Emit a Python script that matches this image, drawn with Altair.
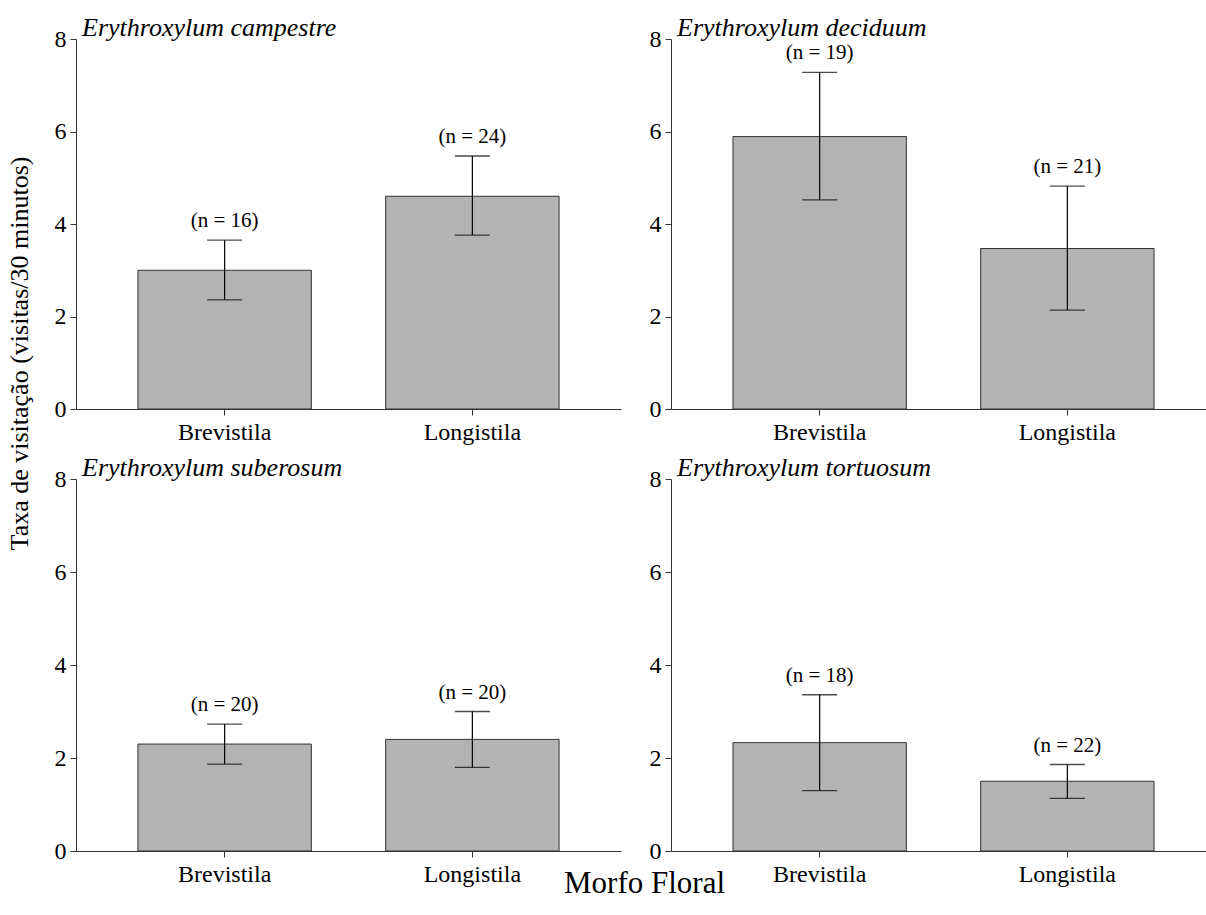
import altair as alt
import pandas as pd

# ---- data ----
species = ["Erythroxylum campestre", "Erythroxylum deciduum",
           "Erythroxylum suberosum", "Erythroxylum tortuosum"]
morphs = ["Brevistila", "Longistila"]
means = [[3.00, 4.60], [5.89, 3.47], [2.30, 2.40], [2.33, 1.50]]
lower = [[2.36, 3.76], [4.52, 2.14], [1.87, 1.80], [1.30, 1.13]]
upper = [[3.65, 5.47], [7.28, 4.82], [2.73, 3.00], [3.36, 1.86]]
n_obs = [[16, 24], [19, 21], [20, 20], [18, 22]]
y_ticks = [0, 2, 4, 6, 8]

FONT = "Liberation Serif"
BAR = "#b3b3b3"
DARK = "#333333"


def panel(i, width, height, pad_outer, align, y_title=False, x_title=False):
    df = pd.DataFrame({
        "morph": morphs,
        "mean": means[i],
        "lo": lower[i],
        "hi": upper[i],
        "label": [f"(n = {n})" for n in n_obs[i]],
    })
    base = alt.Chart(df)

    yaxis_kw = dict(values=y_ticks, labelFont=FONT, labelFontSize=24, labelColor="black",
                    tickSize=6, tickColor=DARK, domainColor=DARK, labelPadding=4,
                    grid=False, format="d")
    if y_title:
        yaxis_kw.update(title="Taxa de visitação (visitas/30 minutos)", titleFont=FONT,
                        titleFontSize=26, titleFontWeight="normal", titleColor="black",
                        titleAngle=270, titleX=-57, titleY=314, titleAlign="center",
                        titleBaseline="middle")
    else:
        yaxis_kw.update(title=None)

    xaxis_kw = dict(labelAngle=0, labelFont=FONT, labelFontSize=24, labelColor="black",
                    tickSize=6, tickColor=DARK, domainColor=DARK, labelPadding=5)
    if x_title:
        xaxis_kw.update(title="Morfo Floral", titleFont=FONT, titleFontSize=31,
                        titleFontWeight="normal", titleColor="black", titleX=568,
                        titleY=41, titleAlign="center", titleBaseline="alphabetic")
    else:
        xaxis_kw.update(title=None)

    x = alt.X("morph:N", sort=morphs,
              scale=alt.Scale(domain=morphs, paddingInner=0.3,
                              paddingOuter=pad_outer, align=align),
              axis=alt.Axis(**xaxis_kw))
    yscale = alt.Scale(domain=[0, 8], nice=False)

    bars = base.mark_bar(fill=BAR, stroke=DARK, strokeWidth=1).encode(
        x=x, y=alt.Y("mean:Q", scale=yscale, axis=alt.Axis(**yaxis_kw)))
    rule = base.mark_rule(color="black", strokeWidth=1.2).encode(
        x=x, y=alt.Y("lo:Q", scale=yscale), y2="hi:Q")
    cap_lo = base.mark_tick(color="black", size=35, thickness=1.3).encode(
        x=x, y=alt.Y("lo:Q", scale=yscale))
    cap_hi = base.mark_tick(color="black", size=35, thickness=1.3).encode(
        x=x, y=alt.Y("hi:Q", scale=yscale))
    txt = base.mark_text(font=FONT, fontSize=21, color="black", dy=-19,
                         baseline="middle").encode(
        x=x, y=alt.Y("hi:Q", scale=yscale), text="label:N")

    return alt.layer(bars, rule, cap_lo, cap_hi, txt).properties(
        width=width, height=height,
        title=alt.TitleParams(species[i], anchor="start", frame="group",
                              font=FONT, fontSize=26, fontStyle="italic",
                              fontWeight="normal", color="black", offset=2, dx=6,
                              dy=16),
    )


p1 = panel(0, 545, 370, 0.25, 0.5, y_title=True)
p2 = panel(1, 535, 370, 0.23, 0.544)
p3 = panel(2, 545, 372, 0.25, 0.5, x_title=True)
p4 = panel(3, 535, 372, 0.23, 0.544)

chart = alt.concat(p1, p2, p3, p4, columns=2, bounds="flush", align="each",
                   spacing={"row": 70, "column": 50}).properties(
    padding={"left": 6, "top": 15, "right": 0, "bottom": 0},
    background="white",
).configure_view(strokeWidth=0, stroke="transparent")

chart.save("out.html", embed_options={"renderer": "svg", "actions": False})
